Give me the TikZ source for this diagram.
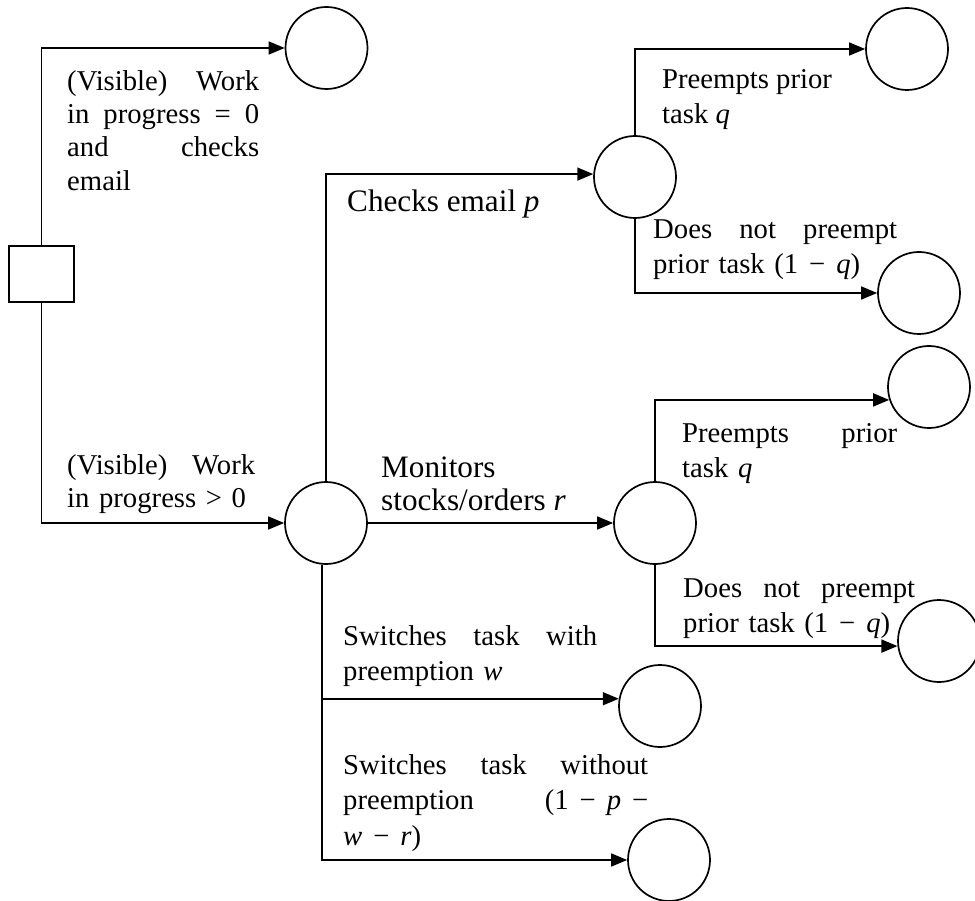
\documentclass[tikz,border=0pt]{standalone}
\usepackage{fontspec}
\setmainfont{Liberation Serif}
\usetikzlibrary{arrows.meta}
\newcommand{\mn}{\hspace{0.38em}−\hspace{0.38em}}
\begin{document}
\begin{tikzpicture}[x=1pt,y=-1pt,
  circ/.style={circle,draw,line width=1.7pt,minimum size=82pt,inner sep=0pt},
  sq/.style={rectangle,draw,line width=1.7pt,minimum width=65pt,minimum height=56pt,inner sep=0pt},
  conn/.style={line width=1.6pt},
  arr/.style={conn,-{Triangle[length=16pt,width=13pt]}},
  lbl/.style={anchor=north west,inner sep=0pt,align=left,font=\fontsize{28.7}{33.3}\selectfont},
  lblm/.style={lbl,font=\fontsize{28.7}{35.5}\selectfont},
  lblb/.style={lbl,font=\fontsize{31.2}{33.3}\selectfont}
]
\useasboundingbox (0,0) rectangle (975,901);

% nodes
\node[sq] (S) at (41.5,274) {};
\node[circ] (T) at (326.5,48) {};
\node[circ] (E) at (635,177) {};
\node[circ] (A) at (907,49) {};
\node[circ] (B) at (919,293) {};
\node[circ] (M) at (326,523) {};
\node[circ] (F) at (655,523) {};
\node[circ] (C) at (929,387) {};
\node[circ] (D) at (939,641) {};
\node[circ] (G) at (660,706) {};
\node[circ] (H) at (669,860) {};

% connectors
\draw[arr] (S.north) |- (T.west);
\draw[arr] (S.south) |- (M.west);
\draw[arr] (M.north) |- (E.176);
\draw[arr] (E.north) |- (A.west);
\draw[arr] (E.south) |- (B.west);
\draw[arr] (M.east) -- (F.west);
\draw[arr] (F.north) |- (C.198);
\draw[arr] (F.south) |- (D.187);
\coordinate (ms) at ([xshift=-4pt]M.south);
\draw[arr] (ms) |- (H.west);
\draw[arr] (ms |- G.170) -- (G.170);

% labels (anchor = top of strut of first line)
\node[lbl,text width=192pt] (l1) at (67,66.7)
  {\strut(Visible)\hfill Work\\in\hfill progress\hfill =\hfill 0\\and\hfill checks\\email};
\node[lblb] (l2) at (347,187.7) {\strut Checks email \textit{p}};
\node[lblm] (l3) at (662,63.4) {\strut Preempts prior\\task \textit{q}};
\node[lblm,text width=244pt] (l4) at (653,213.1)
  {\strut Does\hfill not\hfill preempt\\prior task (1\mn\textit{q})};
\node[lbl,text width=188pt] (l5) at (67,450.7)
  {\strut(Visible)\hfill Work\\in progress {\char`\>} 0};
\node[lblb] (l6) at (381,453.7) {\strut Monitors\\stocks/orders \textit{r}};
\node[lblm,text width=215pt] (l7) at (682,417.1)
  {\strut Preempts\hfill prior\\task \textit{q}};
\node[lblm,text width=232pt] (l8) at (683,572.1)
  {\strut Does\hfill not\hfill preempt\\prior task (1\mn\textit{q})};
\node[lblm,text width=254pt] (l9) at (343,620.1)
  {\strut Switches\hfill task\hfill with\\preemption \textit{w}};
\node[lblm,text width=305pt] (l10) at (343,749.1)
  {\strut Switches\hfill task\hfill without\\preemption\hfill(1\mn\textit{p}\mn\\\textit{w}\mn\textit{r})};
\end{tikzpicture}
\end{document}
